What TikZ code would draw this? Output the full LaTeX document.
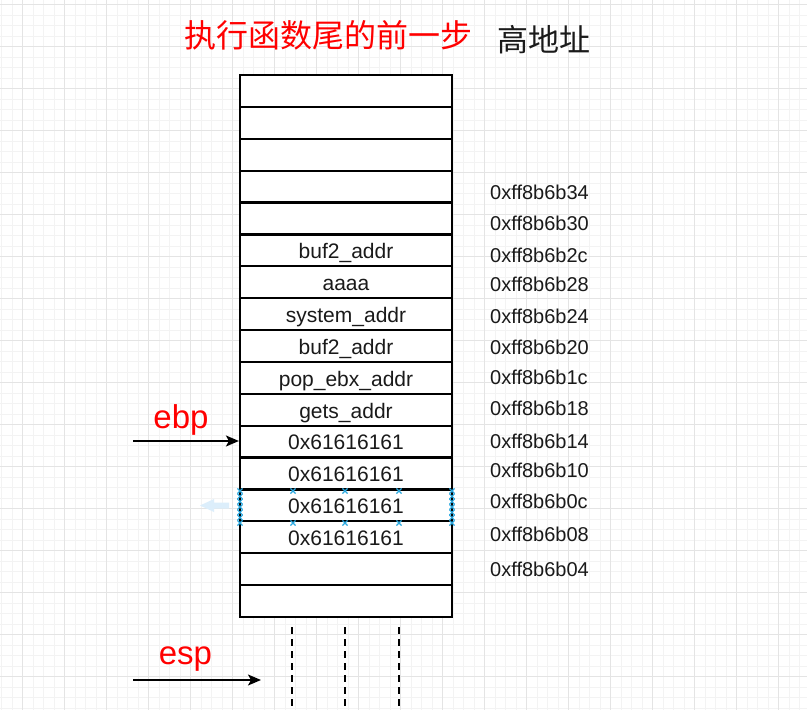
\documentclass[tikz,border=0pt]{standalone}
\usepackage{fontspec}
\setmainfont{Liberation Sans}
\newfontfamily\cjk{Noto Sans CJK SC}
\usetikzlibrary{arrows.meta}
\definecolor{gmaj}{HTML}{E4E4E4}
\definecolor{gmin}{HTML}{F3F3F3}
\definecolor{txt}{HTML}{1A1A1A}
\definecolor{selblue}{HTML}{29A8E0}
\definecolor{ghost}{HTML}{DCEEFB}
\tikzset{
  cell/.style={draw=black, line width=2.2pt, fill=white, minimum width=212pt, minimum height=31.88pt, inner sep=0pt, text height=16.6pt, text depth=0pt, text=txt, font=\fontsize{21}{24}\selectfont},
  addr/.style={anchor=west, inner sep=0pt, text=txt, font=\fontsize{20}{24}\selectfont},
  reglabel/.style={text=red, inner sep=0pt, font=\fontsize{33}{38}\selectfont},
  ptr/.style={line width=1.4pt, -{Stealth[length=13pt,width=11pt,inset=3pt]}},
  dashcol/.style={line width=2pt, dash pattern=on 7pt off 5pt},
  handle/.style={draw=selblue, line width=1.1pt},
}
\newcommand{\selx}[2]{\draw[handle] (#1-2.6,#2-2.6) -- (#1+2.6,#2+2.6) (#1-2.6,#2+2.6) -- (#1+2.6,#2-2.6);}
\begin{document}
\begin{tikzpicture}[x=1pt,y=-1pt]
\useasboundingbox (0,0) rectangle (807,710);
\begin{scope}
\clip (0,0) rectangle (807,710);
\fill[white] (0,0) rectangle (807,710);
\foreach \i in {0,...,77} {\draw[gmin, line width=0.6pt] ({1.3+10.5*\i},0) -- ++(0,710);}
\foreach \i in {0,...,68} {\draw[gmin, line width=0.6pt] (0,{4.3+10.5*\i}) -- ++(807,0);}
\foreach \i in {0,...,19} {\draw[gmaj, line width=0.8pt] ({22.3+42*\i},0) -- ++(0,710);}
\foreach \i in {0,...,17} {\draw[gmaj, line width=0.8pt] (0,{4.3+42*\i}) -- ++(807,0);}
\end{scope}

% title
\node[inner sep=0pt, text=red, font=\cjk\fontsize{32}{36}\selectfont] (title) at (328.5,35) {执行函数尾的前一步};
\node[inner sep=0pt, text=txt, font=\cjk\fontsize{31}{36}\selectfont] (high) at (543.5,40) {高地址};

% stack cells
\foreach \lab [count=\k] in {{},{},{},{},{},buf2\_addr,aaaa,system\_addr,buf2\_addr,pop\_ebx\_addr,gets\_addr,0x61616161,0x61616161,0x61616161,0x61616161,{},{}} {
  \node[cell] (r\k) at (346,{75+31.88*(\k-0.5)}) {\lab};
}

% addresses
\node[addr] (a34) at (490,192) {0xff8b6b34};
\node[addr] (a30) at (490,223) {0xff8b6b30};
\node[addr] (a2c) at (490,255) {0xff8b6b2c};
\node[addr] (a28) at (490,284.5) {0xff8b6b28};
\node[addr] (a24) at (490,316) {0xff8b6b24};
\node[addr] (a20) at (490,347) {0xff8b6b20};
\node[addr] (a1c) at (490,377) {0xff8b6b1c};
\node[addr] (a18) at (490,408.5) {0xff8b6b18};
\node[addr] (a14) at (490,441) {0xff8b6b14};
\node[addr] (a10) at (490,470) {0xff8b6b10};
\node[addr] (a0c) at (490,501.5) {0xff8b6b0c};
\node[addr] (a08) at (490,534) {0xff8b6b08};
\node[addr] (a04) at (490,569) {0xff8b6b04};

% ebp
\node[reglabel] (ebp) at (181,420) {ebp};
\coordinate (ebpstart) at (133,441);
\draw[ptr] (ebpstart) -- (ebpstart -| r12.west);

% esp
\node[reglabel] (esp) at (185.5,659) {esp};
\coordinate (espstart) at (133,680);
\coordinate (espend) at (261,680);
\draw[ptr] (espstart) -- (espend);

% dashed continuation
\coordinate (d1) at (292,627);
\coordinate (d2) at (344.5,627);
\coordinate (d3) at (398.5,627);
\foreach \d in {d1,d2,d3} {\draw[dashcol] (\d) -- ++(0,90);}

% selection artefacts on row 14
\fill[ghost] (200,505.5) -- (214,499) -- (214,502.5) -- (229,502.5) -- (229,508.5) -- (214,508.5) -- (214,512) -- cycle;
\foreach \x in {240,293,345,399,452} {\selx{\x}{491}\selx{\x}{523}}
\foreach \y in {496.3,501.6,507,512.3,517.6} {\selx{240}{\y}\selx{452}{\y}}
\end{tikzpicture}
\end{document}
